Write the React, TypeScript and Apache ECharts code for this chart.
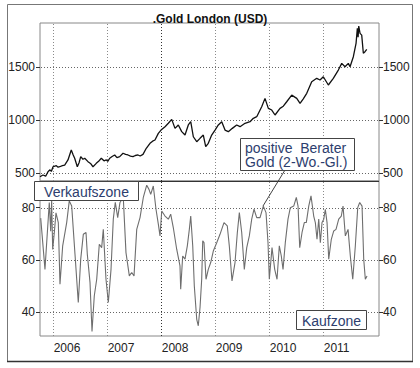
import React, { useEffect, useRef } from "react";
import * as echarts from "echarts";

// Gold London (USD) — time as decimal years, price in USD
const goldYears = [
  2005.765, 2005.82, 2005.87, 2005.913, 2005.95, 2005.975, 2006.006, 2006.04, 2006.067, 2006.1,
  2006.13, 2006.18, 2006.222, 2006.283, 2006.344, 2006.38, 2006.407, 2006.456, 2006.49, 2006.519,
  2006.56, 2006.593, 2006.654, 2006.7, 2006.746, 2006.807, 2006.85, 2006.9, 2006.95, 2006.993,
  2007.02, 2007.056, 2007.1, 2007.148, 2007.19, 2007.241, 2007.302, 2007.35, 2007.394, 2007.44,
  2007.487, 2007.53, 2007.58, 2007.62, 2007.672, 2007.733, 2007.802, 2007.85, 2007.894, 2007.956,
  2008.006, 2008.08, 2008.141, 2008.204, 2008.265, 2008.326, 2008.389, 2008.45, 2008.511, 2008.556,
  2008.604, 2008.667, 2008.728, 2008.789, 2008.833, 2008.881, 2008.944, 2009.006, 2009.067, 2009.13,
  2009.191, 2009.252, 2009.326, 2009.407, 2009.469, 2009.561, 2009.654, 2009.715, 2009.778, 2009.87,
  2009.931, 2009.993, 2010.056, 2010.117, 2010.209, 2010.27, 2010.333, 2010.426, 2010.519, 2010.58,
  2010.64, 2010.704, 2010.796, 2010.889, 2010.95, 2011.011, 2011.104, 2011.196, 2011.289, 2011.352,
  2011.413, 2011.474, 2011.506, 2011.567, 2011.617, 2011.641, 2011.655, 2011.667, 2011.691, 2011.722,
  2011.752, 2011.783, 2011.815,
];
const goldPrices = [
  465, 481, 470, 512, 530, 515, 559, 565, 569, 555,
  559, 570, 575, 623, 717, 670, 639, 559, 600, 654,
  630, 639, 607, 590, 559, 591, 610, 639, 615, 623,
  610, 639, 655, 670, 645, 654, 686, 675, 670, 660,
  654, 665, 670, 660, 676, 733, 780, 800, 811, 874,
  905, 937, 969, 1006, 921, 953, 890, 858, 953, 984,
  842, 795, 827, 858, 748, 780, 858, 905, 953, 984,
  905, 890, 921, 953, 937, 969, 984, 1016, 1031, 1125,
  1204, 1110, 1094, 1047, 1110, 1130, 1172, 1235, 1204, 1157,
  1200, 1252, 1361, 1393, 1377, 1408, 1330, 1393, 1471, 1534,
  1502, 1534, 1502, 1597, 1723, 1865, 1780, 1886, 1817, 1801,
  1629, 1644, 1666,
];

// positive Berater Gold (2-Wo.-Gl.) in %
const sentimentYears = [
  2005.778, 2005.857, 2005.937, 2005.963, 2005.981, 2006.0, 2006.03, 2006.061, 2006.104, 2006.135,
  2006.185, 2006.259, 2006.307, 2006.352, 2006.413, 2006.474, 2006.519, 2006.567, 2006.617, 2006.641,
  2006.691, 2006.728, 2006.77, 2006.815, 2006.863, 2006.907, 2006.937, 2006.987, 2007.03, 2007.08,
  2007.122, 2007.159, 2007.204, 2007.246, 2007.307, 2007.357, 2007.419, 2007.463, 2007.506, 2007.556,
  2007.617, 2007.678, 2007.741, 2007.783, 2007.815, 2007.863, 2007.913, 2007.956, 2007.987, 2008.019,
  2008.08, 2008.141, 2008.185, 2008.233, 2008.296, 2008.357, 2008.37, 2008.407, 2008.45, 2008.493,
  2008.53, 2008.556, 2008.593, 2008.622, 2008.667, 2008.696, 2008.728, 2008.759, 2008.778, 2008.802,
  2008.839, 2008.881, 2008.926, 2008.974, 2009.037, 2009.098, 2009.172, 2009.233, 2009.27, 2009.32,
  2009.376, 2009.419, 2009.456, 2009.5, 2009.548, 2009.593, 2009.641, 2009.685, 2009.728, 2009.778,
  2009.839, 2009.9, 2009.95, 2009.987, 2010.011, 2010.061, 2010.111, 2010.154, 2010.196, 2010.233,
  2010.265, 2010.307, 2010.357, 2010.4, 2010.463, 2010.511, 2010.543, 2010.574, 2010.617, 2010.659,
  2010.696, 2010.741, 2010.783, 2010.833, 2010.863, 2010.894, 2010.926, 2010.956, 2010.987, 2011.019,
  2011.048, 2011.08, 2011.111, 2011.159, 2011.204, 2011.246, 2011.296, 2011.344, 2011.376, 2011.419,
  2011.469, 2011.511, 2011.556, 2011.604, 2011.648, 2011.685, 2011.728, 2011.759, 2011.789, 2011.82,
];
const sentimentValues = [
  76, 56.4, 82, 71, 82.6, 64, 70.5, 78, 74.3, 50.7,
  65.4, 74.3, 82.6, 80.6, 62.2, 43.7, 60.3, 69.8, 70.5, 62.2,
  51.4, 32.6, 46.2, 52.6, 66, 64.7, 71.7, 52.6, 43.7, 56.4,
  75.6, 82, 76.2, 82, 83.9, 62.8, 53.9, 55.2, 53.9, 71.7,
  76.2, 83.9, 88.6, 87, 85.1, 88.3, 79.4, 73.7, 69.2, 78.7,
  76.8, 75.6, 77.5, 72.4, 64.1, 57.7, 48.8, 61.5, 60.3, 65.4,
  71.7, 76.8, 65.4, 50.1, 37.3, 34.8, 41.8, 52.6, 67.3, 66.6,
  52.6, 56.4, 59, 63.4, 66.6, 69.8, 74.3, 73, 65.4, 52,
  59, 70.5, 78.1, 70.5, 56.4, 64.7, 69.2, 75.6, 79.4, 76.2,
  76.2, 80.6, 78.1, 66.6, 52.6, 64.7, 56.4, 52.6, 65.4, 61.5,
  56.4, 66.6, 75.6, 80, 80.6, 83.9, 80.6, 64.7, 70.5, 74.3,
  74.3, 80.6, 84.5, 76.8, 74.3, 67.9, 75.6, 66.6, 74.3, 75.6,
  79.4, 74.3, 60.3, 67.9, 71.1, 71.7, 75.6, 76.8, 80.6, 69.2,
  71.7, 61.5, 52.6, 65.4, 80, 82, 80.6, 60.3, 52.6, 53.9,
];

const yearTicks = [2006, 2007, 2008, 2009, 2010, 2011];
const priceTicks = [500, 1000, 1500];
const sentimentTicks = [40, 60, 80];

// axis ranges
const X_MIN = 2005.765;
const X_MAX = 2012.042;
const PRICE_MIN = 424.5;
const PRICE_MAX = 1915;
const SENT_MIN = 30.9;
const SENT_MAX = 90.2;

const FONT = "Liberation Sans, Arial, sans-serif";
const NOTE_COLOR = "#2c3d6e";

export default function App() {
  const ref = useRef<HTMLDivElement>(null);

  useEffect(() => {
    if (!ref.current) return;
    const chart = echarts.init(ref.current, undefined, { renderer: "svg" });

    // one custom series per panel draws the dotted grid (years vertical, ticks horizontal)
    const gridLayer = (gridIndex: number, yAxisIndex: number, hTicks: number[], yMin: number, yMax: number) => ({
      type: "custom",
      xAxisIndex: gridIndex,
      yAxisIndex,
      silent: true,
      z: 1,
      clip: false,
      data: [[X_MIN, yMin]],
      renderItem: (params: any, api: any) => {
        const children: any[] = [];
        yearTicks.forEach((yr) => {
          const p1 = api.coord([yr, yMin]);
          const p2 = api.coord([yr, yMax]);
          const x = Math.round(p1[0]) + 0.5;
          children.push({
            type: "line",
            shape: { x1: x, y1: p1[1], x2: x, y2: p2[1] },
            style: { stroke: yr === 2008 ? "#333" : "#8a8a8a", lineWidth: 1, lineDash: [1, 2] },
          });
        });
        hTicks.forEach((v) => {
          const p1 = api.coord([X_MIN, v]);
          const p2 = api.coord([X_MAX, v]);
          const y = Math.round(p1[1]);
          // dotted row made of 1px squares
          for (let x = Math.ceil(p1[0]) + 1; x < p2[0] - 1; x += 3) {
            children.push({
              type: "rect",
              shape: { x, y, width: 1, height: 1 },
              style: { fill: "#666" },
            });
          }
        });
        return { type: "group", children };
      },
    });

    const xBase = (gridIndex: number, showLabel: boolean) => ({
      type: "value",
      gridIndex,
      min: X_MIN,
      max: X_MAX,
      axisLine: { show: false },
      axisTick: { show: false, customValues: yearTicks },
      splitLine: { show: false },
      axisLabel: {
        show: showLabel,
        customValues: yearTicks,
        align: "left",
        margin: 6,
        padding: [0, 0, 0, 1],
        fontFamily: FONT,
        fontSize: 12,
        color: "#222",
        formatter: (v: number) => String(Math.round(v)),
      },
    });

    const yBase = (gridIndex: number, position: string, min: number, max: number, ticks: number[]) => ({
      type: "value",
      gridIndex,
      position,
      min,
      max,
      axisLine: { show: false },
      axisTick: { show: true, length: 4, customValues: ticks, lineStyle: { color: "#333" } },
      splitLine: { show: false },
      axisLabel: {
        customValues: ticks,
        margin: position === "left" ? 5 : 4,
        fontFamily: FONT,
        fontSize: 12,
        color: "#222",
        formatter: (v: number) => String(v),
      },
    });

    const option: any = {
      animation: false,
      backgroundColor: "#fff",
      title: {
        text: ".Gold London (USD)",
        left: "center",
        top: 8,
        textStyle: { fontFamily: FONT, fontSize: 12, fontWeight: "bold", color: "#111" },
      },
      grid: [
        { left: 40, top: 23, width: 339, height: 158, show: true, borderColor: "#888", borderWidth: 1 },
        { left: 40, top: 181, width: 339, height: 155, show: true, borderColor: "#888", borderWidth: 1 },
      ],
      xAxis: [xBase(0, false), xBase(1, true)],
      yAxis: [
        yBase(0, "left", PRICE_MIN, PRICE_MAX, priceTicks),
        yBase(0, "right", PRICE_MIN, PRICE_MAX, priceTicks),
        yBase(1, "left", SENT_MIN, SENT_MAX, sentimentTicks),
        yBase(1, "right", SENT_MIN, SENT_MAX, sentimentTicks),
      ],
      series: [
        gridLayer(0, 0, priceTicks, PRICE_MIN, PRICE_MAX),
        gridLayer(1, 2, sentimentTicks, SENT_MIN, SENT_MAX),
        {
          name: "Gold London (USD)",
          type: "line",
          xAxisIndex: 0,
          yAxisIndex: 0,
          data: goldYears.map((y, i) => [y, goldPrices[i]]),
          showSymbol: false,
          lineStyle: { color: "#111", width: 1.3 },
          z: 3,
        },
        {
          name: "positive Berater Gold (2-Wo.-Gl.)",
          type: "line",
          xAxisIndex: 1,
          yAxisIndex: 2,
          data: sentimentYears.map((y, i) => [y, sentimentValues[i]]),
          showSymbol: false,
          lineStyle: { color: "#6e6e6e", width: 1.1 },
          z: 3,
        },
      ],
      graphic: [
        {
          type: "rect",
          z: 100,
          shape: { x: 7.5, y: 4.5, width: 405, height: 357 },
          style: { fill: "none", stroke: "#777", lineWidth: 1 },
        },
        {
          type: "line",
          z: 100,
          shape: { x1: 7, y1: 361.5, x2: 413, y2: 361.5 },
          style: { stroke: "#333", lineWidth: 1.5 },
        },
        {
          type: "line",
          z: 100,
          shape: { x1: 40, y1: 181.5, x2: 379, y2: 181.5 },
          style: { stroke: "#333", lineWidth: 1 },
        },
        {
          type: "line",
          z: 100,
          shape: { x1: 285, y1: 170, x2: 263, y2: 206 },
          style: { stroke: "#444", lineWidth: 1 },
        },
        {
          type: "rect",
          z: 101,
          shape: { x: 34.5, y: 181.5, width: 104, height: 19 },
          style: { fill: "#fff", stroke: "#444", lineWidth: 1 },
        },
        {
          type: "text",
          z: 102,
          x: 86.5,
          y: 191.5,
          style: {
            text: "Verkaufszone",
            fontFamily: FONT,
            fontSize: 14,
            fill: NOTE_COLOR,
            align: "center",
            verticalAlign: "middle",
          },
        },
        {
          type: "rect",
          z: 101,
          shape: { x: 240.5, y: 138.5, width: 114, height: 32 },
          style: { fill: "#fff", stroke: "#444", lineWidth: 1 },
        },
        {
          type: "text",
          z: 102,
          x: 245,
          y: 147.5,
          style: {
            text: "positive  Berater",
            fontFamily: FONT,
            fontSize: 14,
            fill: NOTE_COLOR,
            align: "left",
            verticalAlign: "middle",
          },
        },
        {
          type: "text",
          z: 102,
          x: 245,
          y: 162,
          style: {
            text: "Gold (2-Wo.-Gl.)",
            fontFamily: FONT,
            fontSize: 14,
            fill: NOTE_COLOR,
            align: "left",
            verticalAlign: "middle",
          },
        },
        {
          type: "rect",
          z: 101,
          shape: { x: 296.5, y: 310.5, width: 70, height: 19 },
          style: { fill: "#fff", stroke: "#444", lineWidth: 1 },
        },
        {
          type: "text",
          z: 102,
          x: 331.5,
          y: 320.5,
          style: {
            text: "Kaufzone",
            fontFamily: FONT,
            fontSize: 14,
            fill: NOTE_COLOR,
            align: "center",
            verticalAlign: "middle",
          },
        },
      ],
    };

    chart.setOption(option);
    return () => chart.dispose();
  }, []);

  return (
    <div
      ref={ref}
      style={{ position: "fixed", left: 0, top: 0, width: 420, height: 368, background: "#fff" }}
    />
  );
}
